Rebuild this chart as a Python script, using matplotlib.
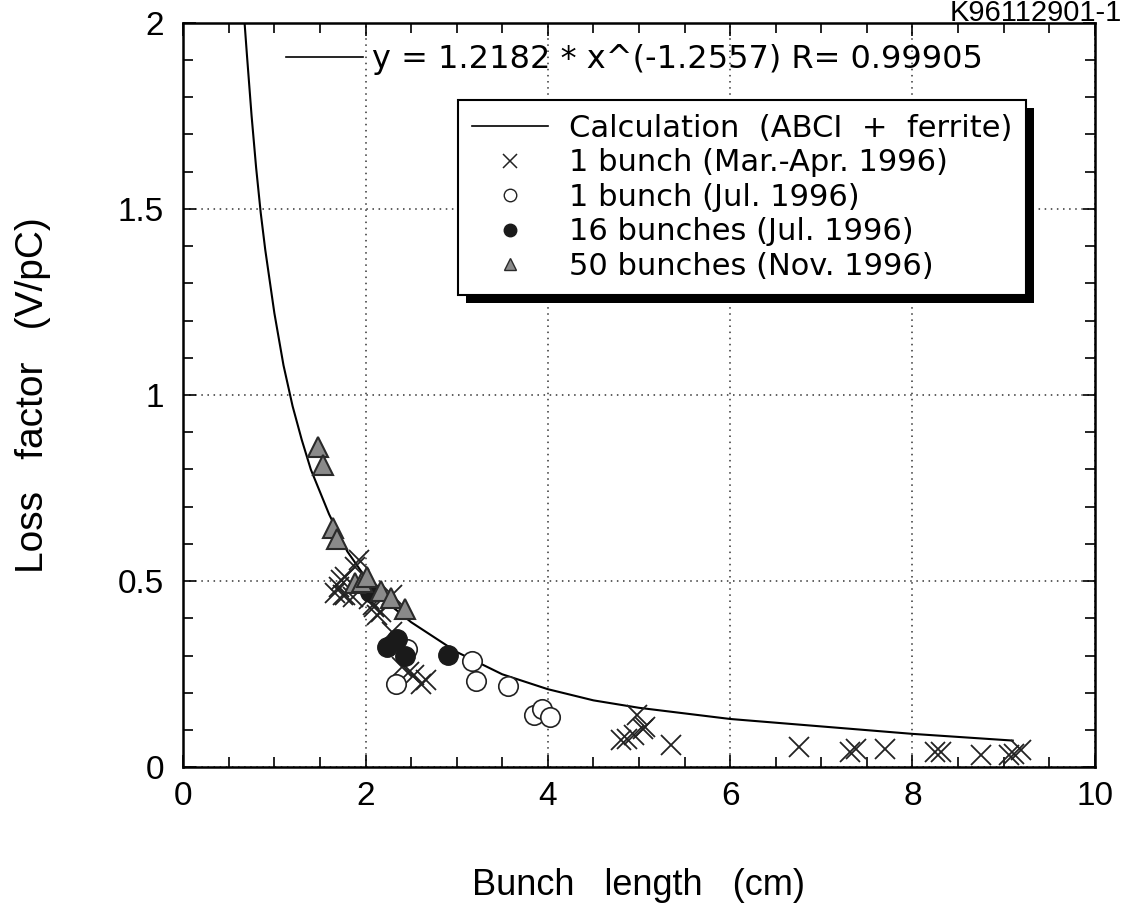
import matplotlib
matplotlib.use('Agg')
import matplotlib.pyplot as plt
from matplotlib.lines import Line2D
from matplotlib.patches import Rectangle
from matplotlib.ticker import MultipleLocator

plt.rcParams['font.family'] = ['Liberation Sans', 'DejaVu Sans']

# ABCI + ferrite calculation (fit curve)
calc_x = [0.67, 0.70, 0.75, 0.80, 0.85, 0.90, 1.00, 1.10, 1.20, 1.30, 1.40, 1.60, 1.80,
          2.00, 2.25, 2.50, 3.00, 3.50, 4.00, 4.50, 5.00, 6.00, 7.00, 8.00, 9.10]
calc_y = [2.01, 1.91, 1.75, 1.61, 1.49, 1.39, 1.22, 1.08, 0.97, 0.88, 0.80, 0.68, 0.58,
          0.51, 0.44, 0.39, 0.31, 0.25, 0.21, 0.18, 0.16, 0.13, 0.11, 0.09, 0.072]

# 1 bunch (Mar.-Apr. 1996)
marapr_x = [1.93, 1.88, 1.77, 1.71, 1.75, 1.86, 2.04, 2.09, 2.13, 2.29, 1.73, 1.67, 1.78,
            2.08, 2.17, 2.29, 2.40, 2.48, 2.53, 2.66, 2.61,
            4.80, 4.87, 4.95, 5.04, 5.07, 4.98, 5.35,
            6.75, 7.32, 7.38, 7.70, 8.25, 8.31, 8.75, 9.06, 9.11, 9.19]
marapr_y = [0.556, 0.538, 0.512, 0.485, 0.462, 0.458, 0.453, 0.431, 0.409, 0.462, 0.503, 0.467, 0.462,
            0.435, 0.417, 0.364, 0.270, 0.256, 0.247, 0.234, 0.225,
            0.073, 0.077, 0.086, 0.104, 0.108, 0.140, 0.059,
            0.055, 0.041, 0.050, 0.050, 0.041, 0.041, 0.032, 0.032, 0.037, 0.046]

# 1 bunch (Jul. 1996)
jul1_x = [2.33, 2.46, 3.17, 3.21, 3.56, 3.85, 3.94, 4.02]
jul1_y = [0.225, 0.319, 0.286, 0.231, 0.218, 0.142, 0.158, 0.134]

# 16 bunches (Jul. 1996)
jul16_x = [2.05, 2.24, 2.35, 2.43, 2.90]
jul16_y = [0.470, 0.323, 0.346, 0.298, 0.301]

# 50 bunches (Nov. 1996)
nov50_x = [1.48, 1.53, 1.64, 1.69, 1.89, 1.96, 2.02, 2.17, 2.28, 2.43]
nov50_y = [0.861, 0.812, 0.644, 0.612, 0.494, 0.498, 0.510, 0.474, 0.455, 0.425]

fit_label = 'y = 1.2182 * x^(-1.2557) R= 0.99905'
legend_labels = ['Calculation  (ABCI  +  ferrite)', '1 bunch (Mar.-Apr. 1996)',
                 '1 bunch (Jul. 1996)', '16 bunches (Jul. 1996)', '50 bunches (Nov. 1996)']

fig = plt.figure(figsize=(11.24, 9.06), dpi=100)
ax = fig.add_axes([0.163, 0.153, 0.811, 0.822])

ax.plot(calc_x, calc_y, color='black', lw=1.5, zorder=3)
ax.plot(marapr_x, marapr_y, ls='none', marker='x', ms=15, mew=1.3, color='#222222', zorder=4)
ax.plot(jul1_x, jul1_y, ls='none', marker='o', ms=14, mew=1.2, mfc='white', mec='#222222', zorder=4)
ax.plot(jul16_x, jul16_y, ls='none', marker='o', ms=14, mfc='#1a1a1a', mec='#1a1a1a', zorder=5)
ax.plot(nov50_x, nov50_y, ls='none', marker='^', ms=14, mfc='#8a8a8a', mec='#2a2a2a', mew=1.5, zorder=5)

ax.set_xlim(0, 10)
ax.set_ylim(0, 2)
ax.xaxis.set_major_locator(MultipleLocator(2))
ax.xaxis.set_minor_locator(MultipleLocator(0.5))
ax.yaxis.set_major_locator(MultipleLocator(0.5))
ax.yaxis.set_minor_locator(MultipleLocator(0.1))
ax.yaxis.set_major_formatter(plt.FuncFormatter(lambda v, p: f'{v:g}'))
ax.tick_params(which='both', direction='in', top=True, right=True, width=1.2)
ax.tick_params(which='major', length=9)
ax.tick_params(which='minor', length=7)
ax.tick_params(axis='x', labelsize=24, pad=10)
ax.tick_params(axis='y', labelsize=24, pad=14)
ax.grid(True, which='major', ls=(0, (1, 3)), color='#333333', lw=1.1)
for s in ax.spines.values():
    s.set_linewidth(1.8)

ax.set_xlabel('Bunch   length   (cm)', fontsize=26, labelpad=40)
ax.set_ylabel('Loss   factor   (V/pC)', fontsize=28, labelpad=48)

line_h = Line2D([], [], color='black', lw=1.2)
fit_leg = ax.legend([line_h], [fit_label], loc='center left', bbox_to_anchor=(0.113, 0.95),
                    frameon=False, handlelength=2.4, handletextpad=0.3,
                    borderpad=0, borderaxespad=0, prop={'family': 'DejaVu Sans', 'size': 23})
ax.add_artist(fit_leg)

handles = [line_h,
           Line2D([], [], ls='none', marker='x', ms=10, mew=1.1, color='#222222'),
           Line2D([], [], ls='none', marker='o', ms=9, mew=1.0, mfc='white', mec='#222222'),
           Line2D([], [], ls='none', marker='o', ms=9, mfc='#1a1a1a', mec='#1a1a1a'),
           Line2D([], [], ls='none', marker='^', ms=8, mfc='#8a8a8a', mec='#2a2a2a')]
leg = ax.legend(handles, legend_labels, loc='upper right', bbox_to_anchor=(0.925, 0.896),
                prop={'family': 'DejaVu Sans', 'size': 22}, handlelength=2.5, handletextpad=0.7,
                labelspacing=0.18, fancybox=False, framealpha=1, edgecolor='black',
                borderpad=0.45, borderaxespad=0)
leg.get_frame().set_linewidth(1.5)
leg.set_zorder(10)

# thick drop shadow behind the legend box
fig.canvas.draw()
bb = leg.get_window_extent().transformed(ax.transAxes.inverted())
dx, dy = 8 / 912, 8 / 744
shadow = Rectangle((bb.x0 + dx, bb.y0 - dy), bb.width, bb.height, transform=ax.transAxes,
                   facecolor='black', edgecolor='none', zorder=9.5, clip_on=False)
ax.add_patch(shadow)

fig.text(0.998, 0.986, 'K96112901-1', ha='right', va='center', fontsize=21)

plt.savefig('out.png', dpi=100)
